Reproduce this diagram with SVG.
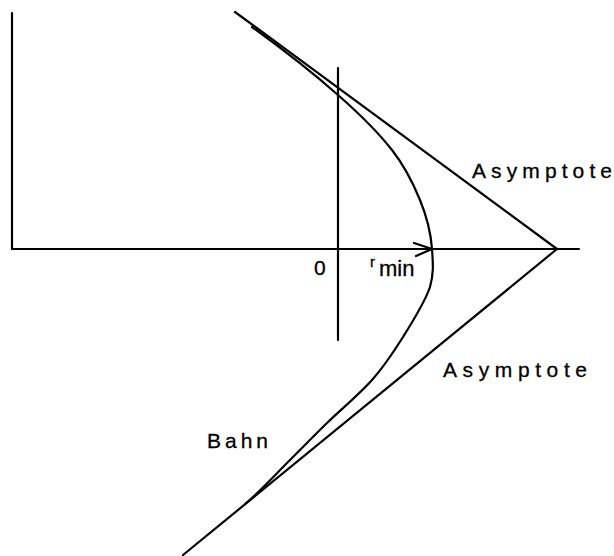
<svg xmlns="http://www.w3.org/2000/svg" width="614" height="556" viewBox="0 0 614 556">
<style>
.ln{stroke:#000;stroke-width:2.2;fill:none;stroke-linecap:round;stroke-linejoin:round}
.lbl{font-family:"Liberation Sans",Arial,sans-serif;fill:#000;stroke:#000;stroke-width:0.3}
</style>
<rect width="614" height="556" fill="#fff"/>
<g id="connectors">
<line id="y-axis" class="ln" x1="12" y1="13" x2="12" y2="249"/>
<line id="x-axis" class="ln" x1="12" y1="249" x2="579" y2="249"/>
<line id="vertical" class="ln" x1="338" y1="68" x2="338" y2="340"/>
<line id="asym-upper" class="ln" x1="235" y1="12" x2="557" y2="249"/>
<line id="asym-lower" class="ln" x1="557" y1="249" x2="183" y2="555"/>
<path id="bahn-curve" class="ln" d="M252,27 C281,48 314.7,74.5 338,95 C361.3,115.5 378.3,132.5 392,150 C405.7,167.5 413.3,183.5 420,200 C426.7,216.5 431,234.5 432,249 C433,263.5 434,272.3 430,287 C425.2,301.7 412.7,321.5 403,337 C393.3,352.5 384.7,365.7 372,380 C359.3,394.3 340.7,409.7 327,423 C313.3,436.3 303.7,446.5 290,460 C276.3,473.5 260,491.7 245,504"/>
<g id="rmin-arrow">
<line class="ln" x1="338" y1="249" x2="432" y2="249" stroke-width="2.6"/>
<polyline class="ln" points="414,243 432,249 416,256" stroke-width="2.6"/>
</g>
</g>
<g id="label-asym-upper"><text class="lbl" x="472" y="178" font-size="21" textLength="140" lengthAdjust="spacing">Asymptote</text></g>
<g id="label-asym-lower"><text class="lbl" x="443" y="377" font-size="21" textLength="144" lengthAdjust="spacing">Asymptote</text></g>
<g id="label-origin"><text class="lbl" x="314" y="275" font-size="21">0</text></g>
<g id="label-rmin"><text class="lbl" x="370" y="267" font-size="15">r</text><text class="lbl" x="379" y="276" font-size="22">min</text></g>
<g id="label-bahn"><text class="lbl" x="207" y="448" font-size="21" textLength="61" lengthAdjust="spacing">Bahn</text></g>
</svg>
